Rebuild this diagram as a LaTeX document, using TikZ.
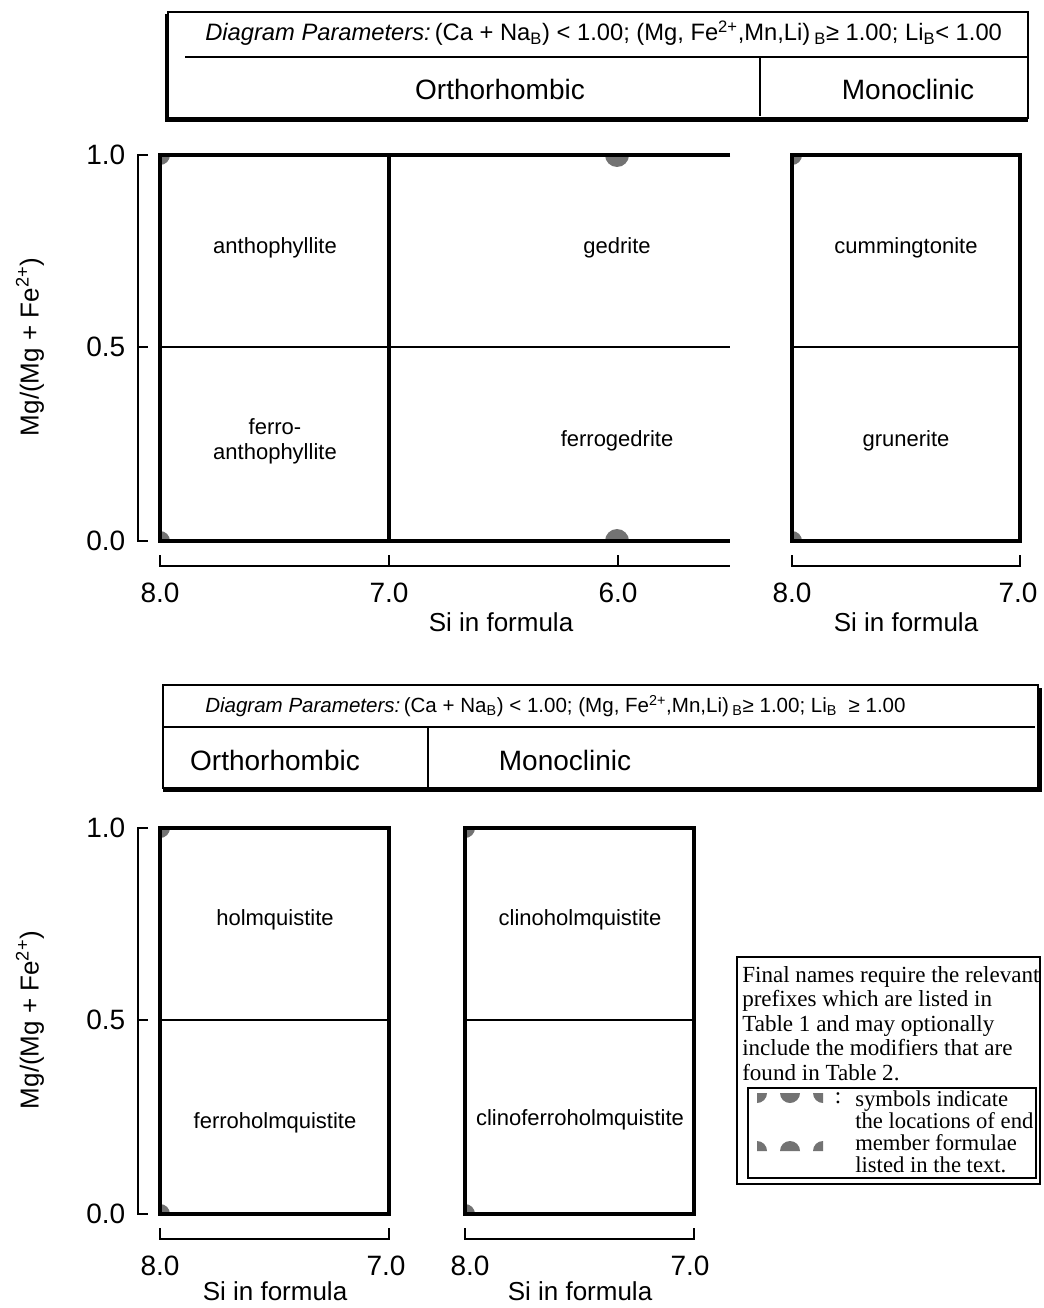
\documentclass[tikz,border=0pt]{standalone}
\usepackage{fontspec}
\setmainfont{Liberation Sans}
\newfontfamily\legendfont{Liberation Serif}
\begin{document}
\begin{tikzpicture}[x=0.75pt,y=-0.75pt,
  frame/.style={line width=2.6pt},
  midline/.style={line width=1.6pt},
  axis/.style={line width=0.9pt},
  thinbox/.style={line width=0.9pt},
  shadow/.style={line width=2.8pt},
  lbl/.style={font=\fontsize{16.5}{19}\selectfont},
  num/.style={font=\fontsize{21}{24}\selectfont},
  sifor/.style={font=\fontsize{19.5}{22}\selectfont},
  hdr/.style={font=\fontsize{21}{24}\selectfont},
  param/.style={anchor=west, inner sep=0pt},
  ylab/.style={font=\fontsize{19.5}{22}\selectfont, rotate=90},
  sym/.style={fill=black!55},
  legtext/.style={anchor=north west, align=left, inner sep=0pt}
]
\useasboundingbox (0,0) rectangle (1044,1308);

% ---------- top header box ----------
\draw[thinbox] (168,12) rectangle (1028,118);
\draw[shadow] (167,14) -- (167,120) -- (1028,120);
\draw[thinbox] (185,57) -- (1028,57);
\draw[thinbox] (760,57) -- (760,116);
\node[param, font=\fontsize{17.8}{20}\selectfont] (p1) at (205,33) {\textit{Diagram Parameters:}\,(Ca + Na\textsubscript{B}) < 1.00; (Mg, Fe\textsuperscript{2+},Mn,Li)\,\textsubscript{B}≥ 1.00; Li\textsubscript{B}< 1.00};
\node[hdr] (o1) at (500,89) {Orthorhombic};
\node[hdr] (m1) at (908,89) {Monoclinic};

% ---------- top plots ----------
\begin{scope}
\clip (160,155) rectangle (730,541);
\fill[sym] (160,155) circle (10);
\fill[sym] (160,541) circle (10);
\fill[sym] (617,155) circle (12);
\fill[sym] (617,541) circle (12);
\end{scope}
\begin{scope}
\clip (792,155) rectangle (1020,541);
\fill[sym] (792,155) circle (10);
\fill[sym] (792,541) circle (10);
\end{scope}
\draw[frame] (730,155) -- (160,155) -- (160,541) -- (730,541);
\draw[frame] (389,155) -- (389,541);
\draw[midline] (160,347) -- (730,347);
\draw[frame] (792,155) rectangle (1020,541);
\draw[midline] (792,347) -- (1020,347);

\node[lbl] (anth) at (275,248) {anthophyllite};
\node[lbl, align=center] (fanth) at (275,441) {ferro-\\anthophyllite};
\node[lbl] (ged) at (617,248) {gedrite};
\node[lbl] (fged) at (617,441) {ferrogedrite};
\node[lbl] (cum) at (906,248) {cummingtonite};
\node[lbl] (gru) at (906,441) {grunerite};

% y axis top
\draw[axis] (148,155) -- (138,155) -- (138,541) -- (148,541);
\draw[axis] (138,347) -- (148,347);
\node[num, anchor=east] (ya1) at (130,155) {1.0};
\node[num, anchor=east] (ya2) at (130,347) {0.5};
\node[num, anchor=east] (ya3) at (130,541) {0.0};
\node[ylab] (yl1) at (30,347) {Mg/(Mg + Fe\textsuperscript{2+})};

% x axes top
\draw[axis] (160,555) -- (160,566) -- (730,566);
\draw[axis] (389,555) -- (389,566);
\draw[axis] (618,555) -- (618,566);
\draw[axis] (792,555) -- (792,566) -- (1020,566) -- (1020,555);
\node[num] (xa1) at (160,593) {8.0};
\node[num] (xa2) at (389,593) {7.0};
\node[num] (xa3) at (618,593) {6.0};
\node[num] (xa4) at (792,593) {8.0};
\node[num] (xa5) at (1018,593) {7.0};
\node[sifor] (si1) at (501,622) {Si in formula};
\node[sifor] (si2) at (906,622) {Si in formula};

% ---------- bottom header box ----------
\draw[thinbox] (163,685) rectangle (1038,788);
\draw[shadow] (1040,688) -- (1040,790) -- (163,790);
\draw[thinbox] (163,727) -- (1035,727);
\draw[thinbox] (428,727) -- (428,787);
\node[param, font=\fontsize{15.4}{18}\selectfont] (p2) at (205,706) {\textit{Diagram Parameters:}\,(Ca + Na\textsubscript{B}) < 1.00; (Mg, Fe\textsuperscript{2+},Mn,Li)\,\textsubscript{B}≥ 1.00; Li\textsubscript{B}\ \ ≥ 1.00};
\node[hdr] (o2) at (275,760) {Orthorhombic};
\node[hdr] (m2) at (565,760) {Monoclinic};

% ---------- bottom plots ----------
\begin{scope}
\clip (160,828) rectangle (389,1214);
\fill[sym] (160,828) circle (10);
\fill[sym] (160,1214) circle (10);
\end{scope}
\begin{scope}
\clip (465,828) rectangle (694,1214);
\fill[sym] (465,828) circle (10);
\fill[sym] (465,1214) circle (10);
\end{scope}
\draw[frame] (160,828) rectangle (389,1214);
\draw[midline] (160,1020) -- (389,1020);
\draw[frame] (465,828) rectangle (694,1214);
\draw[midline] (465,1020) -- (694,1020);

\node[lbl] (hol) at (275,920) {holmquistite};
\node[lbl] (fhol) at (275,1123) {ferroholmquistite};
\node[lbl] (chol) at (580,920) {clinoholmquistite};
\node[lbl] (cfhol) at (580,1120) {clinoferroholmquistite};

\draw[axis] (148,828) -- (138,828) -- (138,1214) -- (148,1214);
\draw[axis] (138,1020) -- (148,1020);
\node[num, anchor=east] (yb1) at (130,828) {1.0};
\node[num, anchor=east] (yb2) at (130,1020) {0.5};
\node[num, anchor=east] (yb3) at (130,1214) {0.0};
\node[ylab] (yl2) at (30,1020) {Mg/(Mg + Fe\textsuperscript{2+})};

\draw[axis] (160,1228) -- (160,1239) -- (389,1239) -- (389,1228);
\draw[axis] (465,1228) -- (465,1239) -- (694,1239) -- (694,1228);
\node[num] (xb1) at (160,1266) {8.0};
\node[num] (xb2) at (386,1266) {7.0};
\node[num] (xb3) at (470,1266) {8.0};
\node[num] (xb4) at (690,1266) {7.0};
\node[sifor] (si3) at (275,1291) {Si in formula};
\node[sifor] (si4) at (580,1291) {Si in formula};

% ---------- legend ----------
\draw[thinbox] (737,957) rectangle (1040,1184);
\node[legtext, font=\legendfont\fontsize{17.3}{18.4}\selectfont] (note) at (742,966)
  {Final names require the relevant\\prefixes which are listed in\\Table 1 and may optionally\\include the modifiers that are\\found in Table 2.};
\draw[thinbox] (748,1088) rectangle (1036,1178);
\fill[sym] (757,1093) -- (767,1093) arc[start angle=0,end angle=90,radius=10] -- cycle;
\fill[sym] (780,1093) arc[start angle=180,end angle=0,radius=10] -- cycle;
\fill[sym] (823,1093) -- (813,1093) arc[start angle=180,end angle=90,radius=10] -- cycle;
\fill[sym] (757,1151) -- (767,1151) arc[start angle=0,end angle=-90,radius=10] -- cycle;
\fill[sym] (780,1151) arc[start angle=180,end angle=360,radius=10] -- cycle;
\fill[sym] (823,1151) -- (813,1151) arc[start angle=180,end angle=270,radius=10] -- cycle;
\node[font=\legendfont\fontsize{17.3}{18.4}\selectfont, inner sep=0pt] (colon) at (838,1098) {:};
\node[legtext, font=\legendfont\fontsize{17}{16.6}\selectfont] (symtxt) at (855,1090)
  {symbols indicate\\the locations of end\\member formulae\\listed in the text.};
\end{tikzpicture}
\end{document}
